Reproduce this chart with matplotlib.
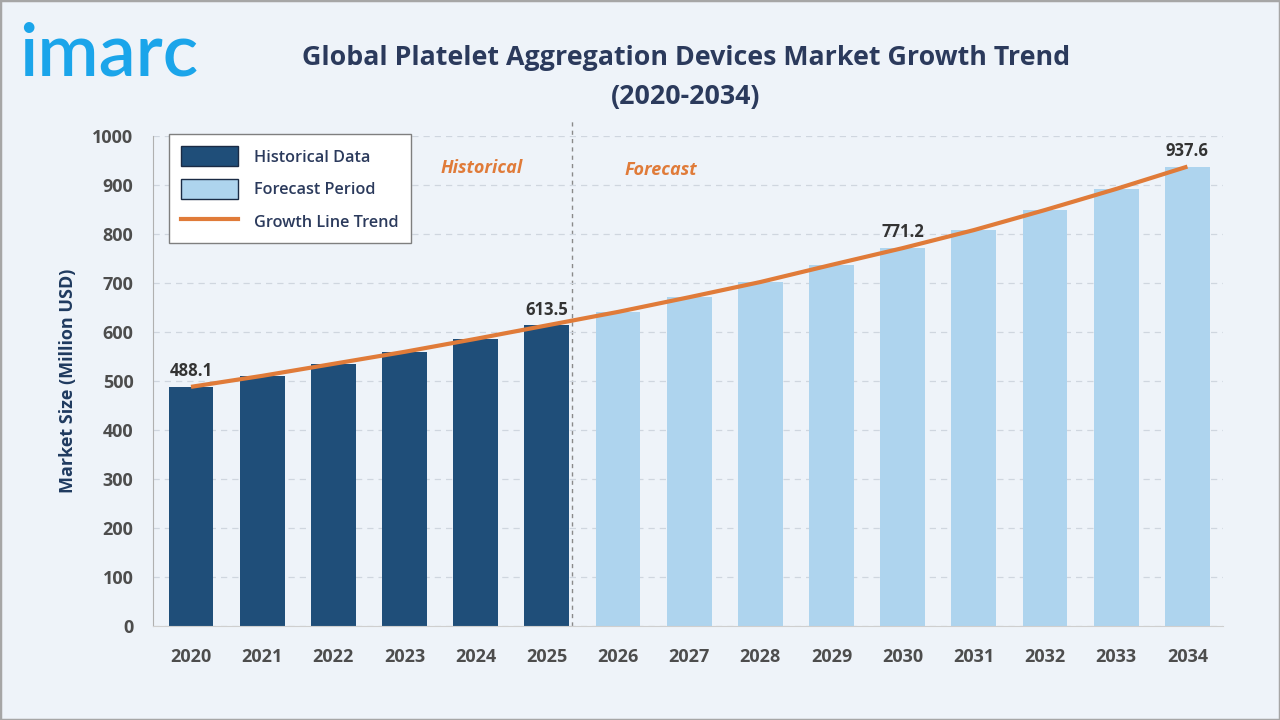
import matplotlib
matplotlib.use("Agg")
import matplotlib.pyplot as plt
from matplotlib.patches import Patch, Rectangle
from matplotlib.lines import Line2D

plt.rcParams['font.family'] = ['Open Sans', 'DejaVu Sans']

years = ["2020", "2021", "2022", "2023", "2024", "2025", "2026", "2027",
         "2028", "2029", "2030", "2031", "2032", "2033", "2034"]
values = [488.1, 510.5, 535.0, 559.5, 586.0, 613.5, 641.0, 671.0,
          702.0, 737.0, 771.2, 808.0, 849.0, 892.0, 937.6]
n_hist = 6
labeled = {0: "488.1", 5: "613.5", 10: "771.2", 14: "937.6"}
yticks = [0, 100, 200, 300, 400, 500, 600, 700, 800, 900, 1000]

dark = "#1f4e79"
light = "#aed4ee"
orange = "#e07b39"
navy = "#2b3a5c"
bg = "#eef3f9"

fig = plt.figure(figsize=(12.8, 7.2), dpi=100, facecolor=bg)
fig.patches.append(Rectangle((0, 0), 1, 1, transform=fig.transFigure,
                             fill=False, edgecolor="#a6a6a6", lw=2.5))

ax = fig.add_axes([153/1280, 1-626/720, (1223-153)/1280, (626-136)/720])
ax.set_facecolor("none")

x = list(range(len(years)))
colors = [dark if i < n_hist else light for i in x]
ax.bar(x, values, width=0.63, color=colors, zorder=2)
ax.plot(x, values, color=orange, lw=3, zorder=3, solid_capstyle='butt')

for i, t in labeled.items():
    ax.text(i, values[i] + 14, t, ha='center', va='bottom', fontsize=12,
            fontweight='bold', color="#333333", zorder=4)

ax.set_xlim(-0.534, 14.5)
ax.set_ylim(0, 1000)
ax.set_yticks(yticks)
ax.set_xticks(x)
ax.set_xticklabels(years)
ax.tick_params(axis='both', length=0, labelsize=13, labelcolor="#4d4d4d")
ax.tick_params(axis='x', pad=16)
ax.tick_params(axis='y', pad=14)
for lbl in ax.get_xticklabels() + ax.get_yticklabels():
    lbl.set_fontweight('bold')

ax.grid(axis='y', linestyle=(0, (5, 4)), color="#cfd6df", lw=0.9, zorder=0)
for s in ['top', 'right']:
    ax.spines[s].set_visible(False)
ax.spines['left'].set_color("#b0b0b0")
ax.spines['bottom'].set_color("#cfcfcf")

ax.axvline(5.36, color="#8a8a8a", lw=1, linestyle=(0, (3, 3)), ymax=1.03, clip_on=False, zorder=1)

ax.text(4.09, 935, "Historical", ha='center', va='center', fontsize=13,
        fontstyle='italic', fontweight='bold', color=orange)
ax.text(6.6, 931, "Forecast", ha='center', va='center', fontsize=13,
        fontstyle='italic', fontweight='bold', color=orange)

ax.set_ylabel("Market Size (Million USD)", fontsize=13, fontweight='bold',
              color="#1f3a5f", labelpad=11)

handles = [Patch(facecolor=dark, edgecolor="#1a2b45", lw=1),
           Patch(facecolor=light, edgecolor="#1a2b45", lw=1),
           Line2D([0], [0], color=orange, lw=3)]
leg = ax.legend(handles, ["Historical Data", "Forecast Period", "Growth Line Trend"],
                loc='upper left', bbox_to_anchor=(0.0145, 1.004), fontsize=11.7,
                borderaxespad=0,
                frameon=True, fancybox=False, edgecolor="#7f7f7f",
                facecolor="white", framealpha=1, handlelength=3.5,
                handleheight=1.5, borderpad=0.75, labelspacing=0.78,
                handletextpad=1.0)
for t in leg.get_texts():
    t.set_color(navy)
    t.set_fontweight('semibold')
leg.get_frame().set_linewidth(1)
leg.set_zorder(5)

fig.text(686/1280, 1-58/720, "Global Platelet Aggregation Devices Market Growth Trend",
         ha='center', va='center', fontsize=19.3, fontweight='bold', color=navy)
fig.text(686/1280, 1-97/720, "(2020-2034)", ha='center', va='center',
         fontsize=19.3, fontweight='bold', color=navy)

fig.text(19/1280, 1-75/720, "imarc", ha='left', va='baseline', fontsize=53,
         fontweight='semibold', color="#1ba5ea", family=['Lato', 'DejaVu Sans'])

fig.savefig("out.png", dpi=100, facecolor=bg)
